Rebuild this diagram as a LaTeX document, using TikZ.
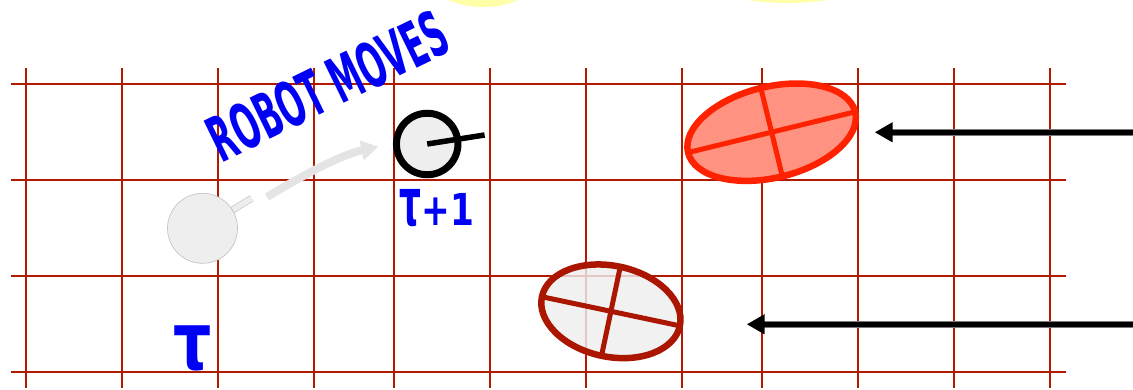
\documentclass[tikz,border=0pt]{standalone}
\usepackage{fontspec}
\newfontfamily\hand{DejaVu Sans}
\usetikzlibrary{arrows.meta,shapes.geometric}
\definecolor{gridred}{RGB}{178,26,0}
\definecolor{gridlight}{RGB}{222,120,105}
\definecolor{obsred}{RGB}{255,34,0}
\definecolor{obsfill}{RGB}{255,146,128}
\definecolor{darkobs}{RGB}{170,22,0}
\definecolor{pale}{RGB}{238,238,238}
\definecolor{paleedge}{RGB}{196,196,196}
\definecolor{ghost}{RGB}{228,228,228}
\definecolor{penblue}{RGB}{0,0,245}
\definecolor{sunyellow}{RGB}{255,255,170}
\definecolor{shaftedge}{RGB}{120,120,120}
\begin{document}
\begin{tikzpicture}[x=1pt,y=-1pt,
  vline/.style={gridred, line width=1.9pt},
  hlineedge/.style={gridlight, line width=2.9pt},
  hlinecore/.style={gridred, line width=1.6pt},
  robotold/.style={circle, inner sep=0pt, outer sep=0pt, minimum size=70pt, fill=pale, draw=paleedge, line width=0.7pt},
  robotnew/.style={circle, inner sep=0pt, outer sep=0pt, minimum size=61.5pt, fill=pale, draw=black, line width=7pt},
  obsnew/.style={ellipse, inner sep=0pt, outer sep=0pt, draw=obsred, fill=obsfill, line width=6.5pt},
  obsold/.style={ellipse, inner sep=0pt, outer sep=0pt, draw=darkobs, fill=pale, fill opacity=0.82, line width=6.5pt},
  axisnew/.style={obsred, line width=5pt},
  axisold/.style={darkobs, line width=5pt},
  ptredge/.style={shaftedge, line width=7pt},
  ptr/.style={black, line width=5.5pt, -{Triangle[length=18pt,width=19pt]}},
  ghostptr/.style={ghost, line width=8pt, -{Triangle[length=17pt,width=19pt]}},
  pen/.style={penblue, inner sep=0pt, font=\hand\bfseries}
]
\useasboundingbox (0,0) rectangle (1133,390);

% yellow blobs at the top edge
\fill[sunyellow] (483,-20) ellipse [x radius=52pt, y radius=27pt];
\fill[sunyellow] (787,-20) ellipse [x radius=80pt, y radius=23pt];

% grid
\foreach \yy in {84,180,276,372}{
  \draw[hlineedge] (11,\yy) -- (1066,\yy);
  \draw[hlinecore] (11,\yy) -- (1066,\yy);
}
\foreach \xx in {26,122,218,314,394,490,586,682,762,858,954,1050}{
  \draw[vline] (\xx,68) -- (\xx,388);
}

% obstacles
\node[obsnew, minimum width=172pt, minimum height=91pt, rotate=13.7] (o1) at (771.6,132.2) {};
\draw[axisnew] (o1.west) -- (o1.east);
\draw[axisnew] (o1.north) -- (o1.south);

\node[obsold, minimum width=141pt, minimum height=91pt, rotate=-11.9] (o2) at (610.9,311.3) {};
\draw[axisold] (o2.west) -- (o2.east);
\draw[axisold] (o2.north) -- (o2.south);

% old robot pose
\coordinate (c0) at (202.5,228.3);
\coordinate (h0) at (251.7,198.3);
\draw[draw=paleedge, line width=0.7pt, double=pale, double distance=5.5pt] (c0) -- (h0);
\node[robotold] (r0) at (c0) {};

% motion arrow
\coordinate (g0) at (267,197);
\coordinate (g1) at (378.3,146.7);
\draw[ghostptr] (g0) .. controls (300,177) and (340,155) .. (g1);

% new robot pose
\node[robotnew] (r1) at (427.2,144) {};
\coordinate (h1) at (484.6,135);
\draw[black, line width=5.5pt] (r1.center) -- (h1);

% measurement arrows
\coordinate (s1) at (1133,132.3);
\coordinate (e1) at (874.7,132.3);
\coordinate (b1) at (890,132.3);
\draw[ptredge] (s1) -- (b1);
\draw[ptr] (s1) -- (e1);
\coordinate (s2) at (1133,324.3);
\coordinate (e2) at (746.7,324.3);
\coordinate (b2) at (762,324.3);
\draw[ptredge] (s2) -- (b2);
\draw[ptr] (s2) -- (e2);

% handwritten labels
\node[pen, rotate=26, xscale=0.54, yscale=1.08, font=\hand\bfseries\fontsize{58}{58}\selectfont] (lbl) at (328,86) {ROBOT MOVES};
\node[pen, xscale=0.78, font=\hand\bfseries\fontsize{44}{44}\selectfont] (t1) at (437,208) {\scalebox{1}[1.5]{τ}+1};
\node[pen, font=\hand\bfseries\fontsize{50}{50}\selectfont] (t0) at (193,348) {\scalebox{1.2}[1.6]{τ}};
\end{tikzpicture}
\end{document}
